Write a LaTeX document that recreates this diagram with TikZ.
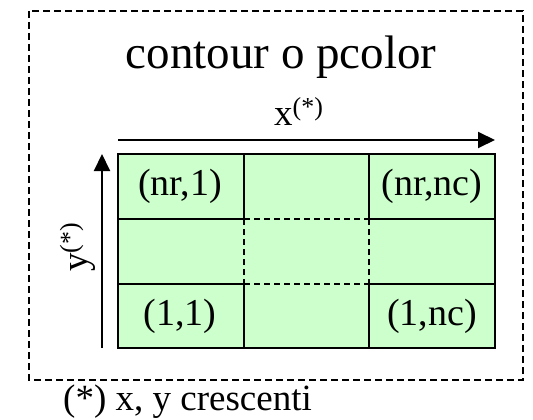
\documentclass[tikz,border=0pt]{standalone}
\usepackage{fontspec}
\setmainfont{Liberation Serif}
\usetikzlibrary{arrows.meta}
\definecolor{cellgreen}{HTML}{CCFFCC}
\begin{document}
\begin{tikzpicture}[x=1pt,y=-1pt,
  frame/.style={draw=black,line width=1.8pt,dash pattern=on 7pt off 4pt},
  gridline/.style={draw=black,line width=2pt},
  gridcut/.style={draw=black,line width=2pt,dash pattern=on 6pt off 4pt},
  axis/.style={draw=black,line width=2pt,-{Triangle[length=17pt,width=16pt]}},
  cell/.style={inner sep=0pt,font=\fontsize{38}{40}\selectfont},
  txt/.style={inner sep=0pt}]
\useasboundingbox (0,0) rectangle (533,420);
% outer dashed frame
\draw[frame] (29,11) rectangle (523,380);
% grid fill
\fill[cellgreen] (118,154) rectangle (495,348);
% coordinates
\coordinate (a0) at (118,154); \coordinate (a3) at (495,154);
\coordinate (b0) at (118,219); \coordinate (b1) at (244,219); \coordinate (b2) at (369,219); \coordinate (b3) at (495,219);
\coordinate (c0) at (118,284); \coordinate (c1) at (244,284); \coordinate (c2) at (369,284); \coordinate (c3) at (495,284);
\coordinate (d0) at (118,348); \coordinate (d3) at (495,348);
\coordinate (t1) at (244,154); \coordinate (t2) at (369,154);
\coordinate (u1) at (244,348); \coordinate (u2) at (369,348);
% solid lines
\draw[gridline] (a0) rectangle (d3);
\draw[gridline] (b0) -- (b1) (b2) -- (b3);
\draw[gridline] (c0) -- (c1) (c2) -- (c3);
\draw[gridline] (t1) -- (b1) (c1) -- (u1);
\draw[gridline] (t2) -- (b2) (c2) -- (u2);
% dashed interior
\draw[gridcut] (b1) -- (b2) (c1) -- (c2) (b1) -- (c1) (b2) -- (c2);
% cell labels
\node[cell] (n11) at (180,186.5) {(nr,1)};
\node[cell] (n13) at (432,186.5) {(nr,nc)};
\node[cell] (n31) at (180,316) {(1,1)};
\node[cell] (n33) at (432,316) {(1,nc)};
% axes
\coordinate (xs) at (118,140); \coordinate (xe) at (495,140);
\coordinate (ys) at (102,348); \coordinate (ye) at (102,154);
\draw[axis] (xs) -- (xe);
\draw[axis] (ys) -- (ye);
% texts
\node[txt,anchor=base,font=\fontsize{47}{50}\selectfont] (title) at (281,69) {contour o pcolor};
\node[txt,anchor=base west,font=\fontsize{37}{40}\selectfont] (xl) at (274,125) {x\textsuperscript{(*)}};
\node[txt,anchor=base,rotate=90,font=\fontsize{37}{40}\selectfont] (yl) at (87,247) {y\textsuperscript{(*)}};
\node[txt,anchor=base west,font=\fontsize{37}{40}\selectfont] (foot) at (63,410) {(*) x, y crescenti};
\end{tikzpicture}
\end{document}
